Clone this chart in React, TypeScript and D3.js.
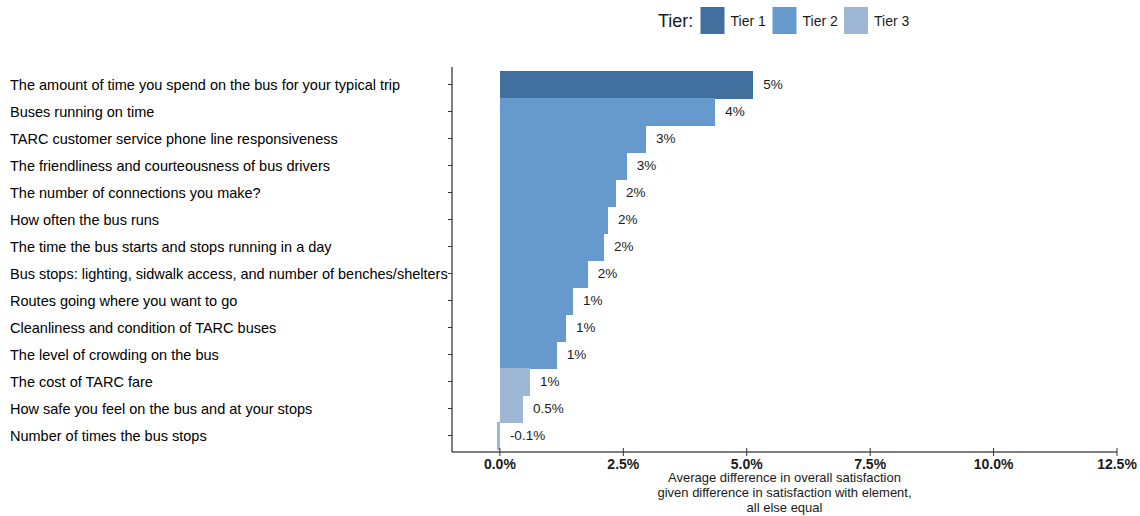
import React from "react";
import * as d3 from "d3";

const categories = [
  "The amount of time you spend on the bus for your typical trip",
  "Buses running on time",
  "TARC customer service phone line responsiveness",
  "The friendliness and courteousness of bus drivers",
  "The number of connections you make?",
  "How often the bus runs",
  "The time the bus starts and stops running in a day",
  "Bus stops: lighting, sidwalk access, and number of benches/shelters",
  "Routes going where you want to go",
  "Cleanliness and condition of TARC buses",
  "The level of crowding on the bus",
  "The cost of TARC fare",
  "How safe you feel on the bus and at your stops",
  "Number of times the bus stops",
];
const values = [5.13, 4.36, 2.96, 2.57, 2.35, 2.19, 2.11, 1.78, 1.48, 1.34, 1.15, 0.61, 0.47, -0.06];
const tiers = [1, 2, 2, 2, 2, 2, 2, 2, 2, 2, 2, 3, 3, 3];
const valueLabels = ["5%", "4%", "3%", "3%", "2%", "2%", "2%", "2%", "1%", "1%", "1%", "1%", "0.5%", "-0.1%"];
const xTicks = [0, 2.5, 5, 7.5, 10, 12.5];
const tierNames = ["Tier 1", "Tier 2", "Tier 3"];
const tierColors = ["#41709f", "#6699cc", "#9cb6d3"];
const axisTitle = [
  "Average difference in overall satisfaction",
  "given difference in satisfaction with element,",
  "all else equal",
];

export default function App() {
  const W = 1140, H = 516;
  const x = d3.scaleLinear().domain([-0.97, 12.5]).range([452, 1117]);
  const y = d3.scaleBand().domain(categories).range([71, 449]).padding(0);
  const color = d3.scaleOrdinal<number, string>().domain([1, 2, 3]).range(tierColors);
  const narrow = "'Liberation Sans Narrow', 'Arial Narrow', 'Liberation Sans', Arial, sans-serif";
  const sans = "'Liberation Sans', Arial, sans-serif";
  const axisY = 452;
  const legendX = [700.5, 772.5, 844];

  return (
    <svg width={W} height={H} style={{ position: "absolute", left: 0, top: 0, background: "#fff" }}>
      {/* legend */}
      <text x={658} y={27} fontFamily={sans} fontSize={18} fill="#1a1a1a">Tier:</text>
      {tierNames.map((t, i) => (
        <g key={t}>
          <rect x={legendX[i]} y={7} width={24} height={27} fill={tierColors[i]} />
          <text x={legendX[i] + 30} y={26} fontFamily={narrow} fontSize={14} fill="#1a1a1a">{t}</text>
        </g>
      ))}

      {/* bars */}
      {categories.map((c, i) => {
        const v = values[i];
        const x0 = x(Math.min(0, v));
        const x1 = x(Math.max(0, v));
        return (
          <rect key={c} x={x0} y={y(c)!} width={Math.max(0, x1 - x0)} height={y.bandwidth() + 0.5}
            fill={color(tiers[i])} shapeRendering="crispEdges" />
        );
      })}

      {/* value labels */}
      {categories.map((c, i) => (
        <text key={"l" + c} x={x(Math.max(0, values[i])) + 10} y={y(c)! + y.bandwidth() / 2}
          dy="0.35em" fontFamily={sans} fontSize={13.5} fill="#1a1a1a">{valueLabels[i]}</text>
      ))}

      {/* y axis */}
      <line x1={452} x2={452} y1={67} y2={axisY} stroke="#000" strokeWidth={1} />
      {categories.map((c) => {
        const cy = y(c)! + y.bandwidth() / 2;
        return (
          <g key={"t" + c}>
            <line x1={448} x2={452} y1={cy} y2={cy} stroke="#333" strokeWidth={1} />
            <text x={10} y={cy} dy="0.35em" fontFamily={sans} fontSize={14.5} fill="#000">{c}</text>
          </g>
        );
      })}

      {/* x axis */}
      <line x1={452} x2={1117} y1={axisY} y2={axisY} stroke="#000" strokeWidth={1} />
      {xTicks.map((t) => (
        <g key={"x" + t}>
          <line x1={x(t)} x2={x(t)} y1={axisY - 4} y2={axisY + 4} stroke="#333" strokeWidth={1} />
          <text x={x(t)} y={469} textAnchor="middle" fontFamily={narrow} fontWeight="bold" fontSize={14} fill="#1a1a1a">
            {t.toFixed(1) + "%"}
          </text>
        </g>
      ))}
      {axisTitle.map((s, i) => (
        <text key={s} x={784.5} y={482 + i * 15} textAnchor="middle" fontFamily={narrow} fontSize={13} fill="#1a1a1a">{s}</text>
      ))}
    </svg>
  );
}
